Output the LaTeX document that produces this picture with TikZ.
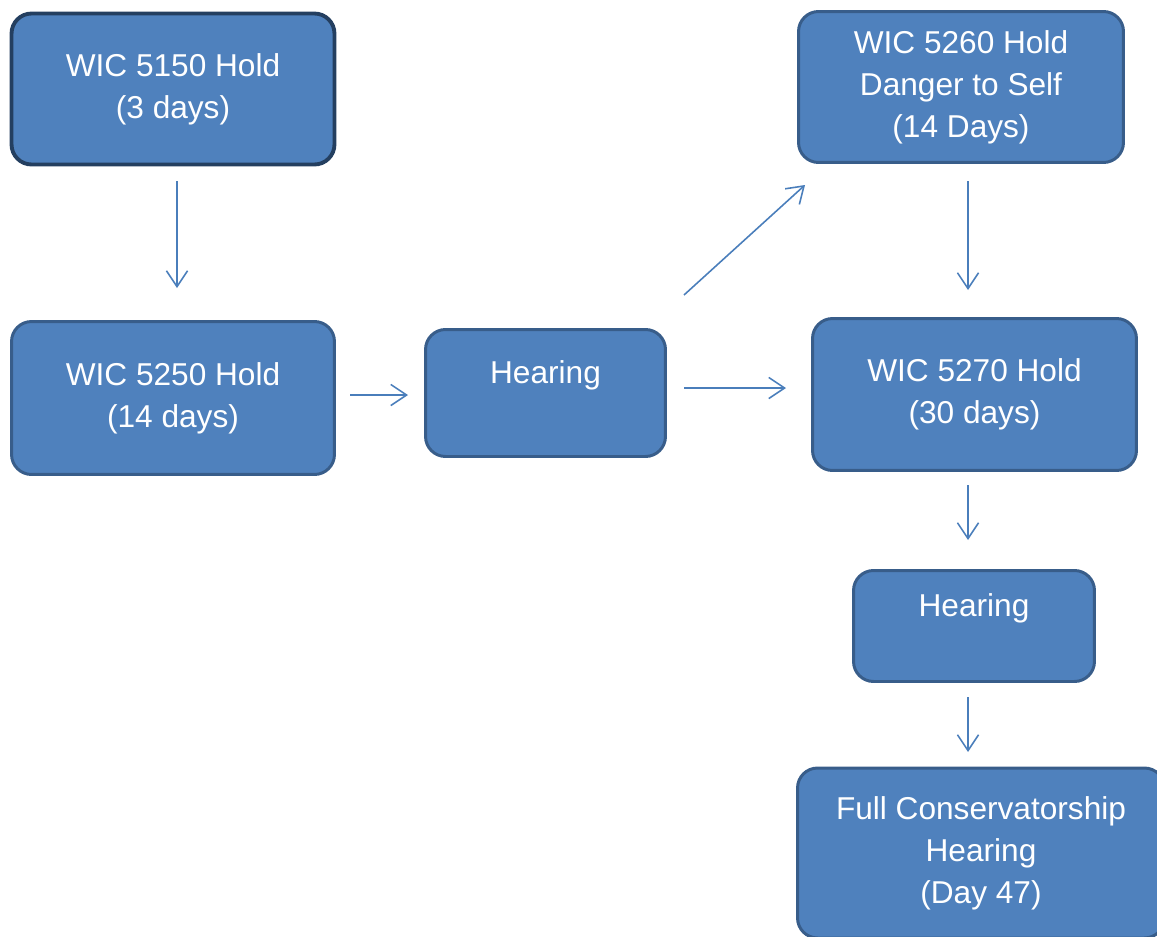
\documentclass[tikz,border=0pt]{standalone}
\usepackage{fontspec}
\setmainfont{Liberation Sans}
\usetikzlibrary{arrows.meta}
\definecolor{boxfill}{HTML}{4F81BD}
\definecolor{boxline}{HTML}{385D8A}
\definecolor{boxdark}{HTML}{243F60}
\definecolor{arrowblue}{HTML}{4A7EBB}
\begin{document}
\begin{tikzpicture}[x=0.02cm,y=-0.02cm,
  holdbox/.style={draw=boxline,fill=boxfill,line width=1.7pt,rounded corners=0.4cm,
    text=white,align=center,inner sep=0pt,
    font=\fontsize{18}{24}\selectfont},
  flowarrow/.style={draw=arrowblue,line width=0.9pt,-{Straight Barb[length=9pt,width=12pt]}}]
\useasboundingbox (0,0) rectangle (1157,937);

% boxes
\node[holdbox,draw=boxdark,line width=2.2pt,minimum width=6.46cm,minimum height=3.02cm] (h5150) at (173,89) {WIC 5150 Hold\\(3 days)};
\node[holdbox,minimum width=6.46cm,minimum height=3.06cm] (h5250) at (173,398) {WIC 5250 Hold\\(14 days)};
\node[holdbox,minimum width=4.8cm,minimum height=2.54cm] (hear1) at (545.5,393) {Hearing\\ \mbox{}};
\node[holdbox,minimum width=6.5cm,minimum height=3.02cm] (h5260) at (961,87) {WIC 5260 Hold\\Danger to Self\\(14 Days)};
\node[holdbox,minimum width=6.48cm,minimum height=3.04cm] (h5270) at (974.5,394.5) {WIC 5270 Hold\\(30 days)};
\node[holdbox,minimum width=4.82cm,minimum height=2.22cm] (hear2) at (974,626) {Hearing\\ \mbox{}};
\node[holdbox,minimum width=7.34cm,minimum height=3.4cm] (full) at (981,853) {Full Conservatorship\\Hearing\\(Day 47)};

% arrow ends
\coordinate (a1s) at (177,181);  \coordinate (a1e) at (177,288);
\coordinate (a2s) at (350,395);  \coordinate (a2e) at (408,395);
\coordinate (a3s) at (684,295);  \coordinate (a3e) at (805,185);
\coordinate (a4s) at (684,388);  \coordinate (a4e) at (786,388);
\coordinate (a5s) at (968,181);  \coordinate (a5e) at (968,290);
\coordinate (a6s) at (968,485);  \coordinate (a6e) at (968,540);
\coordinate (a7s) at (968,697);  \coordinate (a7e) at (968,752);

\draw[flowarrow] (a1s) -- (a1e);
\draw[flowarrow] (a2s) -- (a2e);
\draw[flowarrow] (a3s) -- (a3e);
\draw[flowarrow] (a4s) -- (a4e);
\draw[flowarrow] (a5s) -- (a5e);
\draw[flowarrow] (a6s) -- (a6e);
\draw[flowarrow] (a7s) -- (a7e);
\end{tikzpicture}
\end{document}
